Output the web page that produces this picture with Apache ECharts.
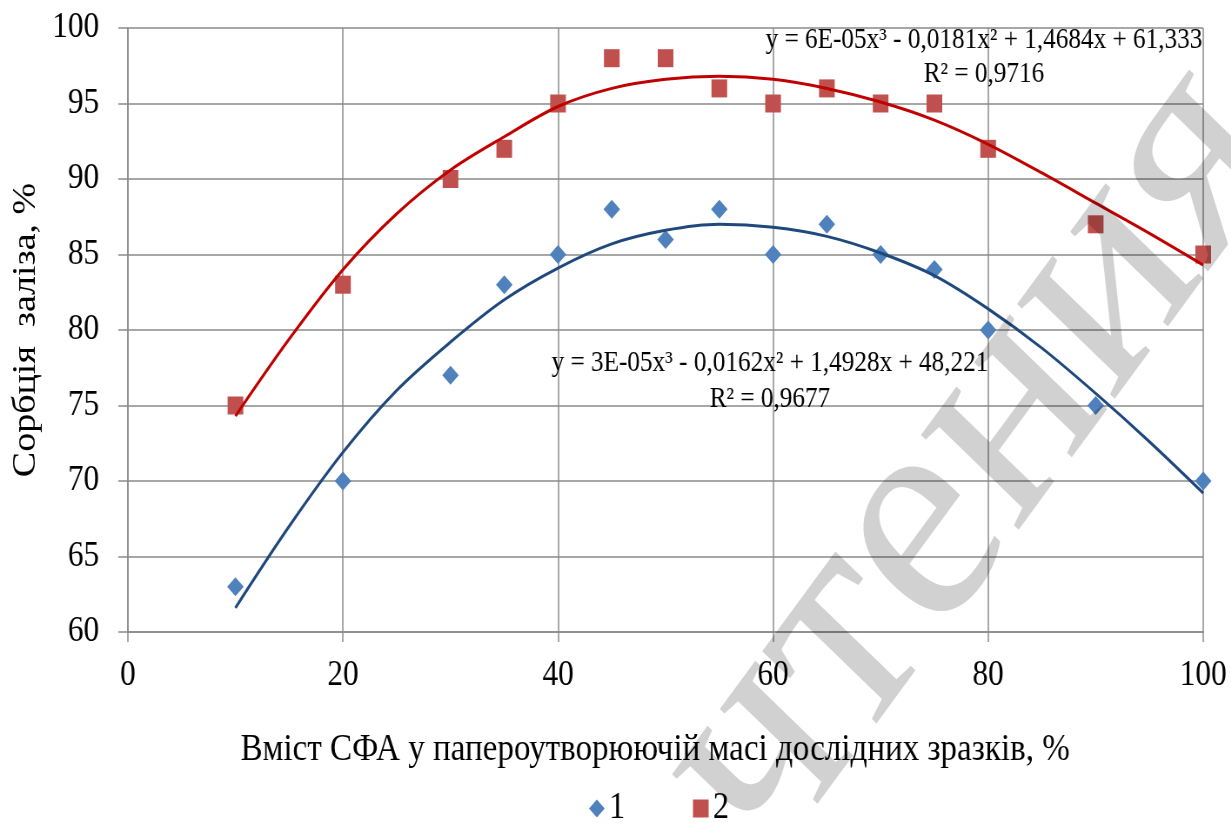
<!DOCTYPE html>
<html>
<head>
<meta charset="utf-8">
<script src="https://cdn.jsdelivr.net/npm/echarts@6/dist/echarts.min.js"></script>
<style>
html,body{margin:0;padding:0;background:#fff;overflow:hidden;width:1231px;height:823px;}
#chart{width:1415px;height:823px;transform:scaleX(0.87);transform-origin:0 0;}
</style>
</head>
<body>
<div id="chart"></div>
<script>
// ---- data ----
const xValues = [10, 20, 30, 35, 40, 45, 50, 55, 60, 65, 70, 75, 80, 90, 100];
const series1 = [63, 70, 77, 83, 85, 88, 86, 88, 85, 87, 85, 84, 80, 75, 70];
const series2 = [75, 83, 90, 92, 95, 98, 98, 96, 95, 96, 95, 95, 92, 87, 85];

// trend curves (polynomial trendlines)
const trendX = [10, 15, 20, 25, 30, 35, 40, 45, 50, 55, 60, 65, 70, 75, 80, 85, 90, 95, 100];
const trend1 = [61.6, 67.0, 71.9, 76.0, 79.2, 82.0, 84.1, 85.7, 86.6, 87.0, 86.8, 86.2, 85.1, 83.6, 81.4, 78.8, 75.8, 72.6, 69.2];
const trend2 = [74.3, 79.4, 84.0, 87.7, 90.6, 92.8, 94.8, 96.0, 96.6, 96.8, 96.6, 96.0, 95.1, 93.9, 92.3, 90.4, 88.4, 86.4, 84.3];

const seriesNames = ['1', '2'];
const eq1 = ['y = 3E-05x³ - 0,0162x² + 1,4928x + 48,221', 'R² = 0,9677'];
const eq2 = ['y = 6E-05x³ - 0,0181x² + 1,4684x + 61,333', 'R² = 0,9716'];
const xTitle = 'Вміст СФА у папероутворюючій масі дослідних зразків, %';
const yTitle = 'Сорбція  заліза, %';
const watermark = 'чтения';

const pairs = (xs, ys) => xs.map((x, i) => [x, ys[i]]);

const FONT = '"Liberation Serif", "Times New Roman", serif';
const gridColor = '#8a8a8a';

const chart = echarts.init(document.getElementById('chart'), null, {renderer: 'canvas'});
chart.setOption({
  backgroundColor: '#ffffff',
  animation: false,
  textStyle: {fontFamily: FONT, color: '#000'},
  grid: {left: 147, right: 32, top: 28, bottom: 191},
  legend: {
    data: seriesNames,
    left: 672, top: 785,
    itemWidth: 18, itemHeight: 18, itemGap: 78,
    textStyle: {fontFamily: FONT, fontSize: 37, color: '#000'}
  },
  xAxis: {
    type: 'value', min: 0, max: 100, interval: 20,
    name: xTitle, nameLocation: 'middle', nameGap: 99,
    nameTextStyle: {fontFamily: FONT, fontSize: 38, color: '#000', padding: [0, 24, 0, 0]},
    axisLine: {show: true, lineStyle: {color: gridColor, width: 1.5}},
    axisTick: {show: true, length: 10, lineStyle: {color: gridColor, width: 1.5}},
    axisLabel: {margin: 26, fontFamily: FONT, fontSize: 36, color: '#000'},
    splitLine: {show: true, lineStyle: {color: gridColor, width: 1.5}}
  },
  yAxis: {
    type: 'value', min: 60, max: 100, interval: 5,
    name: yTitle, nameLocation: 'middle', nameGap: 97, nameRotate: 90,
    nameTextStyle: {fontFamily: FONT, fontSize: 38, color: '#000'},
    axisLine: {show: true, lineStyle: {color: gridColor, width: 1.5}},
    axisTick: {show: true, length: 11, lineStyle: {color: gridColor, width: 1.5}},
    axisLabel: {margin: 33, fontFamily: FONT, fontSize: 36, color: '#000'},
    splitLine: {show: true, lineStyle: {color: gridColor, width: 1.5}}
  },
  series: [
    {
      name: seriesNames[0], type: 'scatter', data: pairs(xValues, series1),
      symbol: 'diamond', symbolSize: [19, 19], z: 3,
      itemStyle: {color: '#4F81BD', opacity: 1}
    },
    {
      name: seriesNames[1], type: 'scatter', data: pairs(xValues, series2),
      symbol: 'rect', symbolSize: [18, 18], z: 3,
      itemStyle: {color: '#C0504D', opacity: 1}
    },
    {
      name: 'trend1', type: 'line', data: pairs(trendX, trend1), smooth: 0.33,
      showSymbol: false, symbol: 'none', silent: true, z: 4,
      lineStyle: {color: '#1F497D', width: 3}
    },
    {
      name: 'trend2', type: 'line', data: pairs(trendX, trend2), smooth: 0.33,
      showSymbol: false, symbol: 'none', silent: true, z: 4,
      lineStyle: {color: '#C00000', width: 3}
    }
  ],
  graphic: [
    {
      type: 'text', x: 1131, y: 57, z: 50,
      style: {text: eq2.join('\n'), fontFamily: FONT, fontSize: 29, lineHeight: 34,
              fill: '#000', align: 'center', verticalAlign: 'middle'}
    },
    {
      type: 'text', x: 885, y: 381, z: 50,
      style: {text: eq1.join('\n'), fontFamily: FONT, fontSize: 29, lineHeight: 36,
              fill: '#000', align: 'center', verticalAlign: 'middle'}
    },
    {
      type: 'text', x: 1118, y: 462, z: 100, rotation: 0.87, silent: true,
      style: {text: watermark, fontFamily: FONT, fontSize: 320,
              fill: 'rgba(0,0,0,0.18)', align: 'center', verticalAlign: 'middle'}
    }
  ]
});
</script>
</body>
</html>
